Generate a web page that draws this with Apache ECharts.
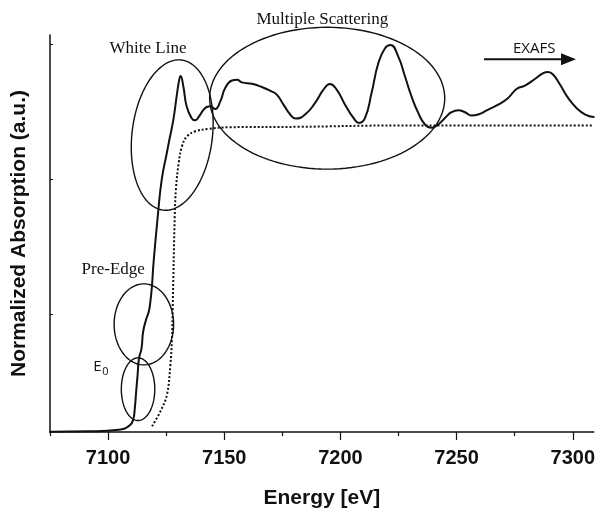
<!DOCTYPE html>
<html>
<head>
<meta charset="utf-8">
<script src="https://cdn.jsdelivr.net/npm/echarts@6/dist/echarts.min.js"></script>
<style>
  html, body { margin: 0; padding: 0; background: #fff; }
  #chart { width: 598px; height: 514px; }
</style>
</head>
<body>
<div id="chart"></div>
<script>
// Fe K-edge XANES spectrum (solid) and the arctan edge step (dotted)
const energy = [7075, 7092.2, 7104.6, 7108.9, 7110.8, 7111.5, 7112.1, 7112.7, 7113.3, 7114.4,
  7115.1, 7116.5, 7117.5, 7118.2, 7118.9, 7119.6, 7121.4, 7123.1, 7125.3, 7126.4,
  7128.1, 7129.5, 7130.6, 7131.2, 7132.4, 7133.8, 7135.9, 7137.4, 7139.0, 7141.1,
  7142.5, 7144.0, 7146.1, 7148.3, 7150.4, 7153.3, 7155.5, 7157.6, 7161.9, 7166.2,
  7169.8, 7172.6, 7175.5, 7178.4, 7180.8, 7184.8, 7189.1, 7192.7, 7195.5, 7198.4,
  7202.0, 7205.6, 7208.0, 7210.6, 7213.4, 7216.3, 7219.2, 7221.5, 7224.9, 7227.8,
  7230.6, 7233.5, 7236.4, 7239.2, 7242.1, 7245.0, 7247.8, 7250.7, 7253.6, 7256.4,
  7259.3, 7263.6, 7267.9, 7272.2, 7275.8, 7279.4, 7283.7, 7287.3, 7289.4, 7291.6,
  7294.5, 7298.0, 7301.6, 7305.4, 7309];
const absorption = [0.132, 0.135, 0.147, 0.174, 0.221, 0.307, 0.432, 0.552, 0.675, 0.749,
  0.874, 0.97, 1.021, 1.095, 1.215, 1.39, 1.731, 2.001, 2.198, 2.296,
  2.443, 2.615, 2.738, 2.767, 2.689, 2.542, 2.456, 2.438, 2.463, 2.517,
  2.537, 2.542, 2.522, 2.578, 2.677, 2.733, 2.738, 2.719, 2.709, 2.685,
  2.657, 2.628, 2.554, 2.481, 2.451, 2.481, 2.567, 2.665, 2.707, 2.665,
  2.554, 2.456, 2.419, 2.456, 2.64, 2.861, 2.972, 2.996, 2.91, 2.763,
  2.615, 2.493, 2.407, 2.383, 2.407, 2.456, 2.498, 2.513, 2.498, 2.474,
  2.481, 2.518, 2.554, 2.604, 2.67, 2.695, 2.744, 2.788, 2.796, 2.776,
  2.703, 2.604, 2.53, 2.481, 2.462];

const stepEnergy = [7118.9, 7122.5, 7125.3, 7126.8, 7127.5, 7127.8, 7128.7, 7129.2, 7130.4,
  7131.8, 7134.0, 7137.6, 7143.3, 7151.9, 7181.9, 7224.9, 7309];
const stepAbsorption = [0.172, 0.282, 0.404, 0.625, 0.822, 1.043, 1.73, 1.927, 2.123,
  2.246, 2.32, 2.357, 2.375, 2.387, 2.39, 2.4, 2.4];

// x-axis ticks
const majorTicks = [7100, 7150, 7200, 7250, 7300];
const minorTicks = [7075, 7125, 7175, 7225, 7275];
const yTicks = [1, 2, 3];

// region outlines: [centre energy, centre absorption, half-width (eV), half-height (a.u.), tilt deg]
const regionEllipses = [
  [7127.6, 2.329, 17.3, 0.56, 7],
  [7194.3, 2.602, 50.6, 0.525, 0],
  [7115.4, 0.927, 12.8, 0.30, 0],
  [7112.9, 0.447, 7.2, 0.232, 0]
];

// region labels: [energy, absorption]
const labelTexts = ['White Line', 'Multiple Scattering', 'Pre-Edge'];
const labelPos = [[7117.2, 2.967], [7192.2, 3.188], [7102.2, 1.333]];
const edgeLabelPos = [7095.4, 0.61];   // E0
const exafsArrow = [7261.8, 7301.4, 2.891];
const exafsLabelPos = [7283.4, 2.967];

const chart = echarts.init(document.getElementById('chart'), null, { renderer: 'canvas' });

const axisFont = 'Liberation Sans, Arial, sans-serif';
const serifFont = 'Liberation Serif, Times New Roman, serif';
const plainSans = 'Open Sans, sans-serif';

function ellipseItem(params, api) {
  const c = api.coord([api.value(0), api.value(1)]);
  const s = api.size([api.value(2), api.value(3)]);
  const th = api.value(4) * Math.PI / 180;
  const pts = [];
  for (let i = 0; i <= 120; i++) {
    const t = i / 120 * Math.PI * 2;
    const x = s[0] * Math.cos(t), y = s[1] * Math.sin(t);
    pts.push([c[0] + x * Math.cos(th) - y * Math.sin(th), c[1] + x * Math.sin(th) + y * Math.cos(th)]);
  }
  return { type: 'polyline', shape: { points: pts }, style: { stroke: '#111', lineWidth: 1.4, fill: null } };
}

function labelItem(params, api) {
  const p = api.coord([api.value(0), api.value(1)]);
  return {
    type: 'text', x: p[0], y: p[1],
    style: { text: labelTexts[params.dataIndex], font: '17px ' + serifFont, fill: '#111', align: 'center', verticalAlign: 'middle' }
  };
}

function exafsItem(params, api) {
  const a = api.coord([exafsArrow[0], exafsArrow[2]]);
  const b = api.coord([exafsArrow[1], exafsArrow[2]]);
  const t = api.coord(exafsLabelPos);
  const e0 = api.coord(edgeLabelPos);
  return {
    type: 'group',
    children: [
      { type: 'line', shape: { x1: a[0], y1: a[1], x2: b[0] - 12, y2: b[1] }, style: { stroke: '#111', lineWidth: 2 } },
      { type: 'polygon', shape: { points: [[b[0], b[1]], [b[0] - 15, b[1] - 6], [b[0] - 15, b[1] + 6]] }, style: { fill: '#111' } },
      { type: 'text', x: t[0], y: t[1], style: { text: 'EXAFS', font: '15px ' + plainSans, fill: '#111', align: 'center', verticalAlign: 'middle' } },
      { type: 'text', x: e0[0], y: e0[1], style: { text: 'E', font: '15px ' + plainSans, fill: '#111', align: 'center', verticalAlign: 'middle' } },
      { type: 'text', x: e0[0] + 8, y: e0[1] + 5, style: { text: '0', font: '11px ' + plainSans, fill: '#111', align: 'center', verticalAlign: 'middle' } }
    ]
  };
}

const option = {
  backgroundColor: '#fff',
  animation: false,
  grid: { left: 50, right: 3, top: 35, bottom: 80, containLabel: false },
  xAxis: [
    {
      type: 'value', min: 7075, max: 7309, interval: 25,
      name: 'Energy [eV]', nameLocation: 'middle', nameGap: 56,
      nameTextStyle: { fontFamily: axisFont, fontWeight: 'bold', fontSize: 21, color: '#111' },
      axisLine: { show: true, lineStyle: { color: '#111', width: 1.5 } },
      axisTick: { show: true, length: 8, inside: false, customValues: majorTicks, lineStyle: { color: '#111', width: 1.2 } },
      axisLabel: {
        show: true, margin: 16, customValues: majorTicks, formatter: v => String(v),
        fontFamily: axisFont, fontWeight: 'bold', fontSize: 20, color: '#111'
      },
      splitLine: { show: false }
    },
    {
      type: 'value', min: 7075, max: 7309, interval: 25, position: 'bottom', offset: 0,
      axisLine: { show: false },
      axisTick: { show: true, length: 4, inside: false, customValues: minorTicks, lineStyle: { color: '#111', width: 1.2 } },
      axisLabel: { show: false },
      splitLine: { show: false }
    }
  ],
  yAxis: {
    type: 'value', min: 0.13, max: 3.07,
    name: 'Normalized Absorption (a.u.)', nameLocation: 'middle', nameGap: 20,
    nameTextStyle: { fontFamily: axisFont, fontWeight: 'bold', fontSize: 21, color: '#111' },
    axisLine: { show: true, lineStyle: { color: '#111', width: 1.5 } },
    axisTick: { show: true, inside: true, length: 3, customValues: yTicks, lineStyle: { color: '#111', width: 1 } },
    axisLabel: { show: false },
    splitLine: { show: false }
  },
  series: [
    {
      name: 'edge step', type: 'line', xAxisIndex: 0,
      data: stepEnergy.map((e, i) => [e, stepAbsorption[i]]),
      showSymbol: false, smooth: 0.4, clip: false,
      lineStyle: { color: '#111', width: 2, type: [2, 2] }
    },
    {
      name: 'XANES', type: 'line', xAxisIndex: 0,
      data: energy.map((e, i) => [e, absorption[i]]),
      showSymbol: false, smooth: 0.5, clip: false,
      lineStyle: { color: '#111', width: 2, join: 'round', cap: 'round' }
    },
    {
      name: 'regions', type: 'custom', xAxisIndex: 0, clip: false,
      renderItem: ellipseItem, data: regionEllipses, silent: true
    },
    {
      name: 'region labels', type: 'custom', xAxisIndex: 0, clip: false,
      renderItem: labelItem, data: labelPos, silent: true
    },
    {
      name: 'exafs', type: 'custom', xAxisIndex: 0, clip: false,
      renderItem: exafsItem, data: [[exafsArrow[0], exafsArrow[2]]], silent: true
    }
  ]
};

chart.setOption(option);
</script>
</body>
</html>
